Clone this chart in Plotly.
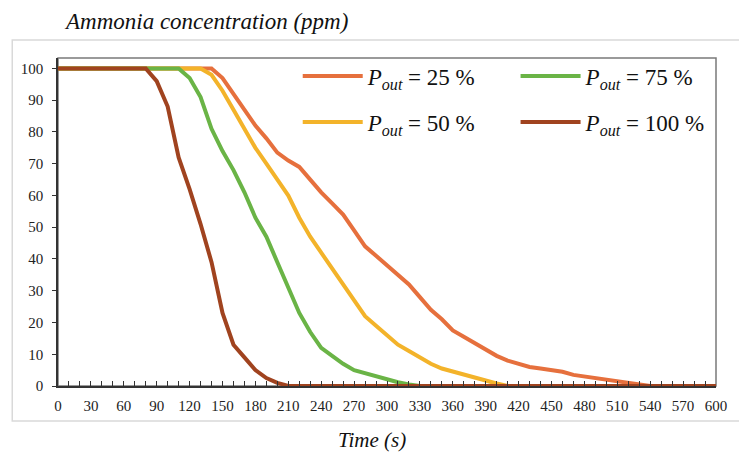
import plotly.graph_objects as go

# ---- data ----
time_s = list(range(0, 610, 10))

p25 = [100]*15 + [97, 92, 87, 82, 78, 73.5, 71, 69, 65, 61, 57.5, 54, 49, 44, 41, 38, 35, 32, 28,
                  24, 21, 17.5, 15.5, 13.5, 11.5, 9.5, 8, 7, 6, 5.5, 5, 4.5, 3.5, 3, 2.5, 2, 1.5,
                  1, 0.3, 0]
p25 += [0]*(len(time_s)-len(p25))

p50 = [100]*14 + [98, 93, 87, 81, 75, 70, 65, 60, 53, 47, 42, 37, 32, 27, 22, 19, 16, 13, 11, 9,
                  7, 5.5, 4.5, 3.5, 2.5, 1.5, 0.8, 0]
p50 += [0]*(len(time_s)-len(p50))

p75 = [100]*12 + [97, 91, 81, 74, 68, 61, 53, 47, 39, 31, 23, 17, 12, 9.5, 7, 5, 4, 3, 2, 1.2,
                  0.5, 0]
p75 += [0]*(len(time_s)-len(p75))

p100 = [100]*9 + [96, 88, 72, 62, 51, 39, 23, 13, 9, 5, 2.5, 1, 0]
p100 += [0]*(len(time_s)-len(p100))

series_names = ["25 %", "50 %", "75 %", "100 %"]
series_values = [p25, p50, p75, p100]
series_colors = ["#E6703D", "#F3B32A", "#6AB446", "#A0431F"]
legend_ids = ["legend", "legend3", "legend2", "legend4"]

x_ticks = list(range(0, 601, 30))
y_ticks = list(range(0, 101, 10))

FONT = "Liberation Serif"

fig = go.Figure()
for name, vals, col, lg in zip(series_names, series_values, series_colors, legend_ids):
    fig.add_trace(go.Scatter(
        x=time_s, y=vals, mode="lines",
        line=dict(color=col, width=4),
        name=f"<i>P</i><sub><i>out</i></sub> = {name}",
        legend=lg, hoverinfo="skip",
    ))

# plot-area geometry in pixels
W, H = 739, 452
L, R, T, B = 58, 19.5, 58, 66
pw, ph = W - L - R, H - T - B

def px(xp):
    return (xp - L) / pw

def py(yp):
    return (H - B - yp) / ph

def leg(xp, yp):
    return dict(
        x=px(xp), y=py(yp), xanchor="left", yanchor="middle",
        orientation="h", bgcolor="rgba(0,0,0,0)", borderwidth=0,
        font=dict(family=FONT, size=23, color="#111"),
        itemwidth=60,
    )

fig.update_layout(
    width=W, height=H,
    margin=dict(l=L, r=R, t=T, b=B),
    paper_bgcolor="white", plot_bgcolor="white",
    font=dict(family=FONT, size=14, color="#222"),
    showlegend=True,
    legend=leg(299, 76),
    legend2=leg(518, 76),
    legend3=leg(299, 122),
    legend4=leg(518, 122),
    xaxis=dict(
        range=[0, 600], tickvals=x_ticks, ticktext=[str(v) for v in x_ticks],
        ticks="inside", ticklen=5, tickwidth=1, tickcolor="#333",
        minor=dict(dtick=10, ticks="inside", ticklen=5, tickwidth=1, tickcolor="#333"),
        showline=True, linecolor="#333", linewidth=1.5,
        showgrid=False, zeroline=False, ticklabelstandoff=5,
        tickfont=dict(family=FONT, size=15, color="#222"),
    ),
    yaxis=dict(
        range=[0, 103.3], tickvals=y_ticks,
        ticks="outside", ticklen=4, tickwidth=1, tickcolor="#333",
        showline=True, linecolor="#333", linewidth=1.5,
        showgrid=False, zeroline=False, ticklabelstandoff=6,
        tickfont=dict(family=FONT, size=15, color="#222"),
    ),
    shapes=[
        dict(type="rect", xref="paper", yref="paper", x0=0, x1=1, y0=0, y1=1,
             line=dict(color="#7a7a7a", width=1.5), layer="below"),
        dict(type="rect", xref="paper", yref="paper", x0=px(12), x1=px(820), y0=py(421), y1=py(40),
             line=dict(color="#d9d9d9", width=1.5), layer="below"),
    ],
    annotations=[
        dict(text="<i>Ammonia concentration (ppm)</i>", xref="paper", yref="paper",
             x=px(62), y=py(22), xanchor="left", yanchor="middle", showarrow=False,
             font=dict(family=FONT, size=23, color="#111")),
        dict(text="<i>Time (s)</i>", xref="paper", yref="paper",
             x=px(374), y=py(440), xanchor="center", yanchor="middle", showarrow=False,
             font=dict(family=FONT, size=21, color="#111")),
    ],
)

fig.write_html("out.html")
